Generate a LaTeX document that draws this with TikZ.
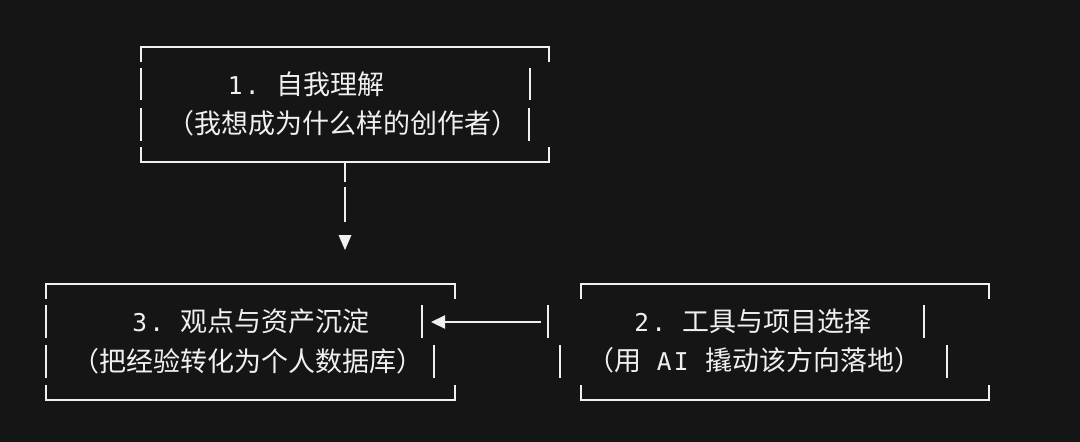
\documentclass[tikz,border=0pt]{standalone}
\usepackage{fontspec}
\usetikzlibrary{arrows.meta}
\newfontfamily\monof{DejaVu Sans Mono}
\newfontfamily\cjkf{Noto Sans CJK SC}
\definecolor{bg}{HTML}{151515}
\definecolor{fg}{HTML}{F0F0F0}
\newcommand\mc[1]{{\monof\fontsize{24.5}{27}\selectfont\makebox[17pt]{#1}}}
\newcommand\asciiframe[4]{%
  \draw[frame] (#1,{#2+15}) -- (#1,#2) -- (#3,#2) -- (#3,{#2+15});
  \draw[frame] (#1,{#4-15}) -- (#1,#4) -- (#3,#4) -- (#3,{#4-15});}
\begin{document}
\begin{tikzpicture}[x=1pt,y=-1pt,
  frame/.style={draw=fg, line width=2pt},
  bar/.style={draw=fg, line width=2pt},
  link/.style={draw=fg, line width=2.2pt},
  head/.style={fill=fg, draw=none},
  txt/.style={text=fg, inner sep=0pt, anchor=base west, font=\cjkf\fontsize{27}{27}\selectfont}]
\fill[bg] (0,0) rectangle (1080,442);
\useasboundingbox (0,0) rectangle (1080,442);

% Box 1
\asciiframe{141}{47}{549}{162}
\draw[bar] (141,68) -- (141,100);
\draw[bar] (530,68) -- (530,100);
\draw[bar] (141,108) -- (141,141);
\draw[bar] (529,108) -- (529,141);
\node[txt] (t1a) at (226.5,94.5) {\mc{1}\mc{.}\hspace{15.5pt}自我理解};
\node[txt] (t1b) at (167,133.5) {（我想成为什么样的创作者）};

% Box 3
\asciiframe{46}{284}{455}{400}
\draw[bar] (46,305) -- (46,338);
\draw[bar] (422,305) -- (422,338);
\draw[bar] (46,345) -- (46,378);
\draw[bar] (434,345) -- (434,378);
\node[txt] (t3a) at (131,331.5) {\mc{3}\mc{.}\hspace{15.5pt}观点与资产沉淀};
\node[txt] (t3b) at (72,371) {（把经验转化为个人数据库）};

% Box 2
\asciiframe{581}{284}{989}{400}
\draw[bar] (548,305) -- (548,338);
\draw[bar] (924,305) -- (924,338);
\draw[bar] (560,345) -- (560,378);
\draw[bar] (947,345) -- (947,378);
\node[txt] (t2a) at (633,331.5) {\mc{2}\mc{.}\hspace{15.5pt}工具与项目选择};
\node[txt] (t2b) at (587,370.5) {（用\hspace{14.5pt}\mc{A}\mc{I}\hspace{15.5pt}撬动该方向落地）};

% Connector 1 -> 3
\coordinate (b1out) at (345,163);
\coordinate (gapA) at (345,182);
\coordinate (gapB) at (345,187);
\coordinate (lineEnd) at (345,222);
\coordinate (tipD) at (345,250);
\draw[link] (b1out) -- (gapA);
\draw[link] (gapB) -- (lineEnd);
\fill[head] (338.5,235) -- (351.5,235) -- (tipD) -- cycle;

% Connector 2 -> 3
\coordinate (b2out) at (541,322);
\coordinate (b3in) at (431,322);
\draw[link, -{Triangle[length=14pt,width=13pt]}] (b2out) -- (b3in);
\end{tikzpicture}
\end{document}
